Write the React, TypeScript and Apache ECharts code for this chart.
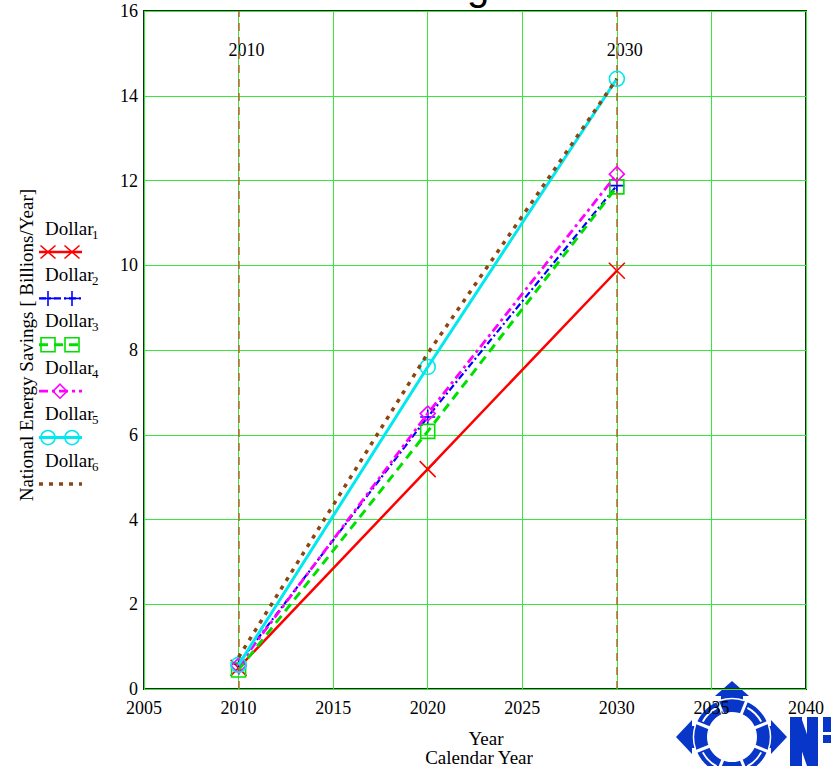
import React, { useEffect, useRef } from "react";
import * as echarts from "echarts";

const years = [2010, 2020, 2030];
const dollar1 = [0.5, 5.19, 9.87];
const dollar2 = [0.6, 6.42, 11.88];
const dollar3 = [0.45, 6.08, 11.85];
const dollar4 = [0.55, 6.5, 12.15];
const dollar5 = [0.57, 7.6, 14.4];
const dollar6 = [0.75, 7.92, 14.4];
const refYears = [2010, 2030];
const seriesNames = ["Dollar1", "Dollar2", "Dollar3", "Dollar4", "Dollar5", "Dollar6"];
const xTitle1 = "Year";
const xTitle2 = "Calendar Year";
const yTitle = "National Energy Savings [ Billions/Year]";
const chartTitle = "Savings";

const SERIF = '"Liberation Serif", "Times New Roman", serif';
const BLUE = "#0836c8";

const styles = [
  { color: "#ff0000", width: 2.5, dash: "solid" as any, symbol: "path://M0 0L10 10M10 0L0 10", size: 16 },
  { color: "#0000ff", width: 2.2, dash: [7, 3, 2, 3], symbol: "path://M5 0L5 10M0 5L10 5", size: 15 },
  { color: "#00e000", width: 3, dash: [9, 6], symbol: "path://M0 0H10V10H0Z", size: 14 },
  { color: "#ff00ff", width: 2.8, dash: [9, 4, 3, 4], symbol: "path://M5 0L10 5L5 10L0 5Z", size: 15 },
  { color: "#00e8f0", width: 3, dash: "solid" as any, symbol: "path://M0 5A5 5 0 1 1 10 5A5 5 0 1 1 0 5Z", size: 15 },
  { color: "#8b4513", width: 3.5, dash: [4, 6], symbol: "none", size: 0 },
];
const dataSets = [dollar1, dollar2, dollar3, dollar4, dollar5, dollar6];

function legendGraphics() {
  const els: any[] = [];
  seriesNames.forEach((name, i) => {
    const ty = 228 + i * 46.4;
    const ly = 252 + i * 46.4;
    const st = styles[i];
    els.push({
      type: "text",
      x: 45,
      y: ty,
      style: { text: name.slice(0, -1), font: `19px ${SERIF}`, fill: "#000", textVerticalAlign: "middle" },
    });
    els.push({
      type: "text",
      x: 92,
      y: ty + 6,
      style: { text: name.slice(-1), font: `13px ${SERIF}`, fill: "#000", textVerticalAlign: "middle" },
    });
    els.push({
      type: "line",
      shape: { x1: 39, y1: ly, x2: 82, y2: ly },
      style: {
        stroke: st.color,
        lineWidth: st.width,
        lineDash: Array.isArray(st.dash) ? st.dash : null,
      },
    });
    const mk = (mx: number) => {
      const h = 7.5;
      const s = { stroke: st.color, lineWidth: 1.6, fill: "none" };
      if (i === 0) {
        els.push({ type: "line", shape: { x1: mx - h, y1: ly - 6.5, x2: mx + h, y2: ly + 6.5 }, style: s });
        els.push({ type: "line", shape: { x1: mx + h, y1: ly - 6.5, x2: mx - h, y2: ly + 6.5 }, style: s });
      } else if (i === 1) {
        els.push({ type: "line", shape: { x1: mx - h, y1: ly, x2: mx + h, y2: ly }, style: s });
        els.push({ type: "line", shape: { x1: mx, y1: ly - h, x2: mx, y2: ly + h }, style: s });
      } else if (i === 2) {
        els.push({ type: "rect", shape: { x: mx - 7, y: ly - 7, width: 14, height: 14 }, style: s });
      } else if (i === 3) {
        els.push({
          type: "polygon",
          shape: { points: [[mx, ly - 7], [mx + 7, ly], [mx, ly + 7], [mx - 7, ly]] },
          style: s,
        });
      } else if (i === 4) {
        els.push({ type: "circle", shape: { cx: mx, cy: ly, r: 7 }, style: s });
      }
    };
    if (i === 3) mk(60);
    else if (i < 5) {
      mk(48);
      mk(72);
    }
  });
  return els;
}

function logoGraphics() {
  const cx = 732;
  const cy = 737;
  const els: any[] = [];
  const z = -5;
  const fill = { fill: BLUE };
  els.push({ type: "ring", z, shape: { cx, cy, r: 38, r0: 25 }, style: fill });
  els.push({ type: "polygon", z, shape: { points: [[cx, 681], [cx + 17, 696], [cx - 17, 696]] }, style: fill });
  els.push({ type: "rect", z, shape: { x: cx - 11, y: 695, width: 22, height: 10 }, style: fill });
  els.push({ type: "polygon", z, shape: { points: [[676, cy], [692, cy - 17], [692, cy + 17]] }, style: fill });
  els.push({ type: "rect", z, shape: { x: 691, y: cy - 11, width: 8, height: 22 }, style: fill });
  els.push({ type: "polygon", z, shape: { points: [[787, cy], [771, cy - 17], [771, cy + 17]] }, style: fill });
  els.push({ type: "rect", z, shape: { x: 765, y: cy - 11, width: 7, height: 22 }, style: fill });
  els.push({ type: "rect", z, shape: { x: cx - 11, y: 769, width: 22, height: 10 }, style: fill });
  const angs = [22, 68, 112, 158, 202, 248, 292, 338];
  angs.forEach((a) => {
    const r = (a * Math.PI) / 180;
    els.push({
      type: "line",
      z: z + 1,
      shape: {
        x1: cx + Math.cos(r) * 24,
        y1: cy + Math.sin(r) * 24,
        x2: cx + Math.cos(r) * 40,
        y2: cy + Math.sin(r) * 40,
      },
      style: { stroke: "#fff", lineWidth: 3 },
    });
  });
  [45, 135, 225, 315].forEach((a) => {
    const r = (a * Math.PI) / 180;
    els.push({
      type: "arc",
      z: z + 1,
      shape: { cx, cy, r: 33, startAngle: r - 0.3, endAngle: r + 0.3 },
      style: { stroke: "#fff", lineWidth: 2, fill: "none" },
    });
  });
  [0, 90, 180, 270].forEach((a) => {
    const r = (a * Math.PI) / 180;
    els.push({
      type: "arc",
      z: z + 1,
      shape: { cx, cy, r: 38.5, startAngle: r - 0.32, endAngle: r + 0.32 },
      style: { stroke: "#fff", lineWidth: 1.5, fill: "none" },
    });
  });
  els.push({ type: "rect", z, shape: { x: 790, y: 717, width: 12, height: 50 }, style: fill });
  els.push({ type: "rect", z, shape: { x: 807, y: 717, width: 11, height: 50 }, style: fill });
  els.push({
    type: "polygon",
    z,
    shape: { points: [[790, 717], [801, 717], [818, 766], [807, 766]] },
    style: fill,
  });
  els.push({ type: "rect", z, shape: { x: 823, y: 717, width: 8, height: 15 }, style: fill });
  els.push({ type: "rect", z, shape: { x: 823, y: 735, width: 8, height: 8 }, style: fill });
  return els;
}

export default function App() {
  const ref = useRef<HTMLDivElement>(null);
  useEffect(() => {
    if (!ref.current) return;
    const chart = echarts.init(ref.current, null, { renderer: "svg" });
    const LABEL_Y = 15.07;
    const series: any[] = dataSets.map((vals, i) => {
      const st = styles[i];
      return {
        name: seriesNames[i],
        type: "line",
        data: years.map((y, k) => [y, vals[k]]),
        symbol: st.symbol,
        symbolSize: st.size,
        showSymbol: st.symbol !== "none",
        lineStyle: { color: st.color, width: st.width, type: st.dash },
        itemStyle: { color: "none", borderColor: st.color, borderWidth: 1.6 },
        z: 2 + i,
        markLine:
          i === 5
            ? {
                silent: true,
                symbol: ["none", "none"],
                label: { show: false },
                lineStyle: { color: "#b8642c", width: 1.5, type: [8, 6] },
                data: refYears.map((y) => ({ xAxis: y })),
              }
            : undefined,
      };
    });

    const baseGraphics: any[] = [
      {
        type: "text",
        x: 367,
        y: 6,
        style: {
          text: chartTitle,
          font: '40px "Liberation Sans"',
          fill: "#000",
          textVerticalAlign: "bottom",
        },
      },
      {
        type: "text",
        x: 26,
        y: 345,
        rotation: Math.PI / 2,
        style: {
          text: yTitle,
          font: `19px ${SERIF}`,
          fill: "#000",
          textAlign: "center",
          textVerticalAlign: "middle",
        },
      },
      {
        type: "text",
        x: 486,
        y: 738,
        style: {
          text: xTitle1,
          font: `19px ${SERIF}`,
          fill: "#000",
          textAlign: "center",
          textVerticalAlign: "middle",
        },
      },
      {
        type: "text",
        x: 479,
        y: 757,
        style: {
          text: xTitle2,
          font: `19px ${SERIF}`,
          fill: "#000",
          textAlign: "center",
          textVerticalAlign: "middle",
        },
      },
      ...legendGraphics(),
      ...logoGraphics(),
    ];

    chart.setOption({
      animation: false,
      backgroundColor: "#fff",
      grid: {
        left: 144,
        right: 28,
        top: 11,
        bottom: 77,
        show: true,
        borderColor: "#162c16",
        borderWidth: 2,
      },
      xAxis: {
        type: "value",
        min: 2005,
        max: 2040,
        interval: 5,
        axisLine: { show: false },
        axisTick: { show: false },
        splitLine: { show: true, lineStyle: { color: "#3ae63a", width: 1 } },
        axisLabel: {
          fontFamily: SERIF,
          fontSize: 18,
          color: "#000",
          margin: 10,
          formatter: (v: number) => String(v),
        },
      },
      yAxis: {
        type: "value",
        min: 0,
        max: 16,
        interval: 2,
        axisLine: { show: false },
        axisTick: { show: false },
        splitLine: { show: true, lineStyle: { color: "#3ae63a", width: 1 } },
        axisLabel: {
          fontFamily: SERIF,
          fontSize: 18,
          color: "#000",
          margin: 6,
          padding: [8, 0, 0, 0],
        },
      },
      graphic: baseGraphics,
      series,
    });

    const yearLabels = refYears.map((yr) => {
      const p = chart.convertToPixel({ gridIndex: 0 }, [yr, LABEL_Y]) as number[];
      return {
        type: "text",
        x: p[0] - 10,
        y: p[1],
        style: {
          text: String(yr),
          font: `18px ${SERIF}`,
          fill: "#000",
          textVerticalAlign: "middle",
        },
      };
    });
    chart.setOption({ graphic: [...baseGraphics, ...yearLabels] });
    return () => chart.dispose();
  }, []);
  return (
    <div
      ref={ref}
      style={{ width: 834, height: 766, position: "absolute", left: 0, top: 0, overflow: "hidden" }}
    />
  );
}
